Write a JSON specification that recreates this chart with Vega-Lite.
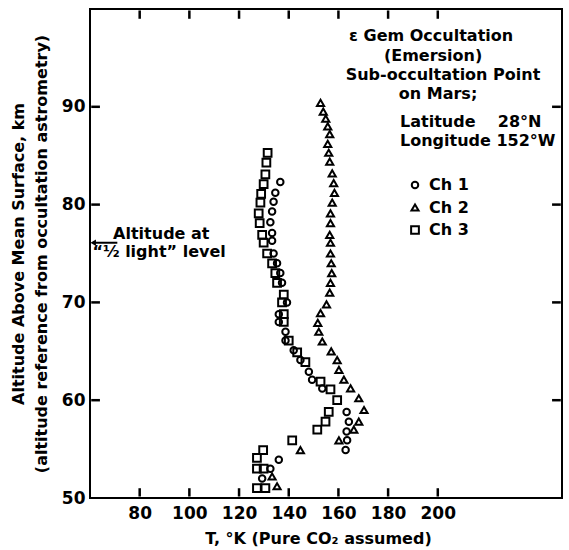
{
  "$schema": "https://vega.github.io/schema/vega-lite/v6.json",
  "width": 472,
  "height": 489,
  "autosize": {"type": "none"},
  "padding": {"left": 90, "top": 9, "right": 7, "bottom": 52},
  "background": "white",
  "config": {
    "view": {"stroke": "black", "strokeWidth": 2},
    "font": "DejaVu Sans",
    "axis": {
      "domain": false,
      "ticks": false,
      "grid": false,
      "labelColor": "black",
      "labelFont": "DejaVu Sans",
      "labelFontWeight": "bold",
      "labelFontSize": 17,
      "titleFont": "DejaVu Sans",
      "titleFontWeight": "bold",
      "titleFontSize": 16,
      "titleColor": "black"
    }
  },
  "datasets": {
    "profile": [
      {"channel": "Ch 1", "alt": 82.3, "T": 136.6},
      {"channel": "Ch 1", "alt": 81.2, "T": 134.6},
      {"channel": "Ch 1", "alt": 80.3, "T": 133.9},
      {"channel": "Ch 1", "alt": 79.3, "T": 133.3},
      {"channel": "Ch 1", "alt": 78.2, "T": 132.6},
      {"channel": "Ch 1", "alt": 77.1, "T": 133.3},
      {"channel": "Ch 1", "alt": 76.3, "T": 133.3},
      {"channel": "Ch 1", "alt": 75.0, "T": 133.9},
      {"channel": "Ch 1", "alt": 74.0, "T": 135.3},
      {"channel": "Ch 1", "alt": 73.0, "T": 136.6},
      {"channel": "Ch 1", "alt": 72.0, "T": 137.3},
      {"channel": "Ch 1", "alt": 70.0, "T": 139.3},
      {"channel": "Ch 1", "alt": 68.8, "T": 136.0},
      {"channel": "Ch 1", "alt": 68.0, "T": 136.0},
      {"channel": "Ch 1", "alt": 67.0, "T": 138.7},
      {"channel": "Ch 1", "alt": 66.1, "T": 138.7},
      {"channel": "Ch 1", "alt": 65.1, "T": 142.0},
      {"channel": "Ch 1", "alt": 64.1, "T": 144.7},
      {"channel": "Ch 1", "alt": 62.9, "T": 148.1},
      {"channel": "Ch 1", "alt": 62.1, "T": 149.4},
      {"channel": "Ch 1", "alt": 61.2, "T": 153.5},
      {"channel": "Ch 1", "alt": 58.8, "T": 163.3},
      {"channel": "Ch 1", "alt": 57.8, "T": 164.2},
      {"channel": "Ch 1", "alt": 56.8, "T": 163.3},
      {"channel": "Ch 1", "alt": 55.9, "T": 163.5},
      {"channel": "Ch 1", "alt": 54.9, "T": 162.9},
      {"channel": "Ch 1", "alt": 53.9, "T": 136.0},
      {"channel": "Ch 1", "alt": 53.0, "T": 132.6},
      {"channel": "Ch 1", "alt": 52.0, "T": 129.3},
      {"channel": "Ch 2", "alt": 90.4, "T": 152.8},
      {"channel": "Ch 2", "alt": 89.5, "T": 153.9},
      {"channel": "Ch 2", "alt": 88.8, "T": 154.9},
      {"channel": "Ch 2", "alt": 88.0, "T": 155.7},
      {"channel": "Ch 2", "alt": 87.2, "T": 156.5},
      {"channel": "Ch 2", "alt": 86.2, "T": 155.7},
      {"channel": "Ch 2", "alt": 85.3, "T": 156.1},
      {"channel": "Ch 2", "alt": 84.4, "T": 156.5},
      {"channel": "Ch 2", "alt": 83.2, "T": 157.5},
      {"channel": "Ch 2", "alt": 82.2, "T": 158.1},
      {"channel": "Ch 2", "alt": 81.2, "T": 158.4},
      {"channel": "Ch 2", "alt": 80.2, "T": 157.5},
      {"channel": "Ch 2", "alt": 79.1, "T": 156.8},
      {"channel": "Ch 2", "alt": 78.1, "T": 156.8},
      {"channel": "Ch 2", "alt": 76.9, "T": 156.5},
      {"channel": "Ch 2", "alt": 76.1, "T": 156.8},
      {"channel": "Ch 2", "alt": 75.0, "T": 156.8},
      {"channel": "Ch 2", "alt": 74.0, "T": 157.1},
      {"channel": "Ch 2", "alt": 73.0, "T": 157.3},
      {"channel": "Ch 2", "alt": 72.0, "T": 156.8},
      {"channel": "Ch 2", "alt": 71.0, "T": 156.5},
      {"channel": "Ch 2", "alt": 69.8, "T": 155.2},
      {"channel": "Ch 2", "alt": 68.9, "T": 152.8},
      {"channel": "Ch 2", "alt": 67.9, "T": 151.7},
      {"channel": "Ch 2", "alt": 67.0, "T": 152.1},
      {"channel": "Ch 2", "alt": 66.0, "T": 153.5},
      {"channel": "Ch 2", "alt": 65.0, "T": 157.1},
      {"channel": "Ch 2", "alt": 64.1, "T": 159.5},
      {"channel": "Ch 2", "alt": 63.1, "T": 160.2},
      {"channel": "Ch 2", "alt": 62.1, "T": 162.2},
      {"channel": "Ch 2", "alt": 61.2, "T": 164.9},
      {"channel": "Ch 2", "alt": 60.2, "T": 168.2},
      {"channel": "Ch 2", "alt": 59.0, "T": 170.3},
      {"channel": "Ch 2", "alt": 57.8, "T": 168.2},
      {"channel": "Ch 2", "alt": 57.0, "T": 166.2},
      {"channel": "Ch 2", "alt": 55.9, "T": 160.2},
      {"channel": "Ch 2", "alt": 54.9, "T": 144.7},
      {"channel": "Ch 2", "alt": 52.2, "T": 133.3},
      {"channel": "Ch 2", "alt": 51.2, "T": 135.3},
      {"channel": "Ch 3", "alt": 85.3, "T": 131.5},
      {"channel": "Ch 3", "alt": 84.3, "T": 131.0},
      {"channel": "Ch 3", "alt": 83.1, "T": 130.6},
      {"channel": "Ch 3", "alt": 82.1, "T": 129.9},
      {"channel": "Ch 3", "alt": 81.1, "T": 128.9},
      {"channel": "Ch 3", "alt": 80.2, "T": 128.6},
      {"channel": "Ch 3", "alt": 79.1, "T": 127.9},
      {"channel": "Ch 3", "alt": 78.1, "T": 128.3},
      {"channel": "Ch 3", "alt": 76.9, "T": 129.3},
      {"channel": "Ch 3", "alt": 76.1, "T": 129.9},
      {"channel": "Ch 3", "alt": 75.0, "T": 131.3},
      {"channel": "Ch 3", "alt": 74.0, "T": 133.3},
      {"channel": "Ch 3", "alt": 73.0, "T": 134.6},
      {"channel": "Ch 3", "alt": 72.0, "T": 135.3},
      {"channel": "Ch 3", "alt": 70.8, "T": 138.0},
      {"channel": "Ch 3", "alt": 70.0, "T": 137.3},
      {"channel": "Ch 3", "alt": 68.8, "T": 138.0},
      {"channel": "Ch 3", "alt": 68.0, "T": 138.0},
      {"channel": "Ch 3", "alt": 66.1, "T": 140.0},
      {"channel": "Ch 3", "alt": 64.9, "T": 143.4},
      {"channel": "Ch 3", "alt": 63.9, "T": 146.7},
      {"channel": "Ch 3", "alt": 61.9, "T": 152.8},
      {"channel": "Ch 3", "alt": 61.1, "T": 156.8},
      {"channel": "Ch 3", "alt": 60.0, "T": 159.5},
      {"channel": "Ch 3", "alt": 58.8, "T": 156.1},
      {"channel": "Ch 3", "alt": 57.8, "T": 154.8},
      {"channel": "Ch 3", "alt": 57.0, "T": 151.5},
      {"channel": "Ch 3", "alt": 55.9, "T": 141.4},
      {"channel": "Ch 3", "alt": 54.9, "T": 129.7},
      {"channel": "Ch 3", "alt": 54.1, "T": 127.2},
      {"channel": "Ch 3", "alt": 53.0, "T": 127.2},
      {"channel": "Ch 3", "alt": 53.0, "T": 129.9},
      {"channel": "Ch 3", "alt": 51.0, "T": 127.2},
      {"channel": "Ch 3", "alt": 51.0, "T": 130.6}
    ],
    "notes_center": [
      {"label": "ε Gem Occultation", "T": 197.3, "alt": 97.2},
      {"label": "(Emersion)", "T": 198.1, "alt": 95.2},
      {"label": "Sub-occultation Point", "T": 202.1, "alt": 93.3},
      {"label": "on Mars;", "T": 200.1, "alt": 91.3}
    ],
    "notes_left": [
      {"label": "Latitude\u00a0\u00a0\u00a0\u00a028°N", "T": 184.8, "alt": 88.4},
      {"label": "Longitude 152°W", "T": 184.8, "alt": 86.5},
      {"label": "Altitude at", "T": 69.3, "alt": 77.0},
      {"label": "“½ light” level", "T": 61.0, "alt": 75.2}
    ],
    "arrow": [
      {"T": 61.3, "T2": 71.0, "alt": 76.1}
    ],
    "ticks": [
      {"T": 80, "T2": 80, "alt": 50.15, "alt2": 51.0},
      {"T": 100, "T2": 100, "alt": 50.15, "alt2": 51.0},
      {"T": 120, "T2": 120, "alt": 50.15, "alt2": 51.0},
      {"T": 140, "T2": 140, "alt": 50.15, "alt2": 51.0},
      {"T": 160, "T2": 160, "alt": 50.15, "alt2": 51.0},
      {"T": 180, "T2": 180, "alt": 50.15, "alt2": 51.0},
      {"T": 200, "T2": 200, "alt": 50.15, "alt2": 51.0},
      {"T": 80, "T2": 80, "alt": 99.85, "alt2": 99.0},
      {"T": 100, "T2": 100, "alt": 99.85, "alt2": 99.0},
      {"T": 120, "T2": 120, "alt": 99.85, "alt2": 99.0},
      {"T": 140, "T2": 140, "alt": 99.85, "alt2": 99.0},
      {"T": 160, "T2": 160, "alt": 99.85, "alt2": 99.0},
      {"T": 180, "T2": 180, "alt": 99.85, "alt2": 99.0},
      {"T": 200, "T2": 200, "alt": 99.85, "alt2": 99.0},
      {"T": 60.5, "T2": 64, "alt": 60, "alt2": 60},
      {"T": 60.5, "T2": 64, "alt": 70, "alt2": 70},
      {"T": 60.5, "T2": 64, "alt": 80, "alt2": 80},
      {"T": 60.5, "T2": 64, "alt": 90, "alt2": 90},
      {"T": 249.5, "T2": 246, "alt": 60, "alt2": 60},
      {"T": 249.5, "T2": 246, "alt": 70, "alt2": 70},
      {"T": 249.5, "T2": 246, "alt": 80, "alt2": 80},
      {"T": 249.5, "T2": 246, "alt": 90, "alt2": 90}
    ]
  },
  "layer": [
    {
      "data": {"name": "profile"},
      "mark": {"type": "point", "filled": false, "color": "black", "strokeWidth": 2, "opacity": 1},
      "encoding": {
        "x": {
          "field": "T", "type": "quantitative",
          "scale": {"domain": [60, 250], "nice": false, "zero": false},
          "axis": {"orient": "bottom", "values": [80, 100, 120, 140, 160, 180, 200], "labelPadding": 7, "title": "T, °K (Pure CO₂ assumed)", "titleX": 228, "titleY": 40, "titleBaseline": "middle"}
        },
        "y": {
          "field": "alt", "type": "quantitative",
          "scale": {"domain": [50, 100], "nice": false, "zero": false},
          "axis": {"orient": "left", "values": [50, 60, 70, 80, 90], "labelPadding": 5, "title": ["Altitude Above Mean Surface, km", "(altitude reference from occultation astrometry)"], "titleX": -72, "titleBaseline": "middle", "titleLineHeight": 23}
        },
        "shape": {
          "field": "channel", "type": "nominal",
          "scale": {"domain": ["Ch 1", "Ch 2", "Ch 3"], "range": ["circle", "triangle-up", "square"]},
          "legend": {"title": null, "orient": "none", "legendX": 317, "legendY": 168, "symbolStrokeWidth": 2, "symbolStrokeColor": "black", "labelFont": "DejaVu Sans", "labelFontWeight": "bold", "labelFontSize": 16, "labelColor": "black", "rowPadding": 6.5, "labelOffset": 6, "padding": 0}
        },
        "size": {
          "field": "channel", "type": "nominal",
          "scale": {"domain": ["Ch 1", "Ch 2", "Ch 3"], "range": [42, 60, 32]},
          "legend": {"title": null, "orient": "none", "legendX": 317, "legendY": 168, "symbolStrokeWidth": 2, "symbolStrokeColor": "black", "labelFont": "DejaVu Sans", "labelFontWeight": "bold", "labelFontSize": 16, "labelColor": "black", "rowPadding": 6.5, "labelOffset": 6, "padding": 0}
        }
      }
    },
    {
      "data": {"name": "ticks"},
      "mark": {"type": "rule", "color": "black", "strokeWidth": 2.5},
      "encoding": {
        "x": {"field": "T", "type": "quantitative"},
        "x2": {"field": "T2"},
        "y": {"field": "alt", "type": "quantitative"},
        "y2": {"field": "alt2"}
      }
    },
    {
      "data": {"name": "notes_center"},
      "mark": {"type": "text", "align": "center", "baseline": "middle", "font": "DejaVu Sans", "fontWeight": "bold", "fontSize": 16, "color": "black"},
      "encoding": {
        "x": {"field": "T", "type": "quantitative"},
        "y": {"field": "alt", "type": "quantitative"},
        "text": {"field": "label", "type": "nominal"}
      }
    },
    {
      "data": {"name": "notes_left"},
      "mark": {"type": "text", "align": "left", "baseline": "middle", "font": "DejaVu Sans", "fontWeight": "bold", "fontSize": 16, "color": "black"},
      "encoding": {
        "x": {"field": "T", "type": "quantitative"},
        "y": {"field": "alt", "type": "quantitative"},
        "text": {"field": "label", "type": "nominal"}
      }
    },
    {
      "data": {"name": "arrow"},
      "mark": {"type": "rule", "color": "black", "strokeWidth": 2},
      "encoding": {
        "x": {"field": "T", "type": "quantitative"},
        "x2": {"field": "T2"},
        "y": {"field": "alt", "type": "quantitative"}
      }
    },
    {
      "data": {"name": "arrow"},
      "mark": {"type": "point", "shape": "triangle-left", "filled": true, "color": "black", "size": 40, "opacity": 1},
      "encoding": {
        "x": {"field": "T", "type": "quantitative"},
        "y": {"field": "alt", "type": "quantitative"}
      }
    }
  ]
}
